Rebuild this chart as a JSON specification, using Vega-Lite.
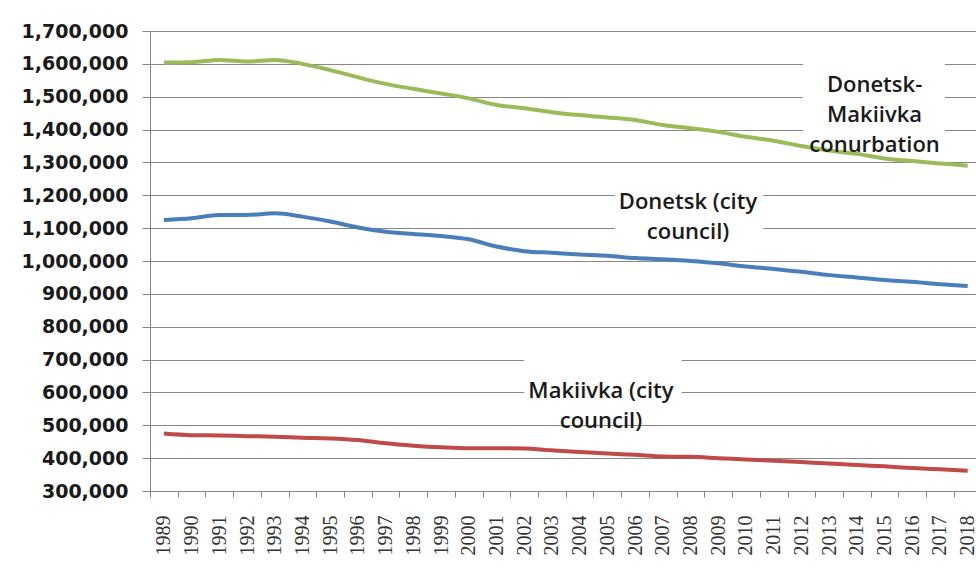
{
  "$schema": "https://vega.github.io/schema/vega-lite/v6.json",
  "width": 826,
  "height": 460,
  "autosize": {"type": "none"},
  "padding": {"left": 150, "top": 31, "right": 0, "bottom": 88},
  "background": "white",
  "config": {
    "view": {"stroke": null},
    "axisX": {
      "title": null,
      "grid": false,
      "tickOffset": -13.86,
      "labelOffset": 13.86,
      "labelAngle": -90,
      "labelFont": "Liberation Serif",
      "labelFontSize": 20,
      "labelColor": "#333333",
      "labelPadding": 18,
      "labelOverlap": false,
      "labelBound": false,
      "labelFlush": false,
      "tickSize": 6,
      "tickColor": "#878787",
      "domainColor": "#878787"
    },
    "axisY": {
      "title": null,
      "grid": true,
      "gridColor": "#878787",
      "gridOpacity": 1,
      "labelOverlap": false,
      "labelFont": "DejaVu Sans",
      "labelFontSize": 19,
      "labelFontWeight": "bold",
      "labelColor": "#1a1a1a",
      "labelPadding": 14,
      "tickSize": 8,
      "tickColor": "#878787",
      "domainColor": "#878787"
    }
  },
  "datasets": {
    "pop": [
      {"year": 1989, "series": "Conurbation", "value": 1604000},
      {"year": 1990, "series": "Conurbation", "value": 1605000},
      {"year": 1991, "series": "Conurbation", "value": 1612000},
      {"year": 1992, "series": "Conurbation", "value": 1607000},
      {"year": 1993, "series": "Conurbation", "value": 1612000},
      {"year": 1994, "series": "Conurbation", "value": 1600000},
      {"year": 1995, "series": "Conurbation", "value": 1581000},
      {"year": 1996, "series": "Conurbation", "value": 1559000},
      {"year": 1997, "series": "Conurbation", "value": 1539000},
      {"year": 1998, "series": "Conurbation", "value": 1524000},
      {"year": 1999, "series": "Conurbation", "value": 1510000},
      {"year": 2000, "series": "Conurbation", "value": 1495000},
      {"year": 2001, "series": "Conurbation", "value": 1475000},
      {"year": 2002, "series": "Conurbation", "value": 1465000},
      {"year": 2003, "series": "Conurbation", "value": 1453000},
      {"year": 2004, "series": "Conurbation", "value": 1444000},
      {"year": 2005, "series": "Conurbation", "value": 1437000},
      {"year": 2006, "series": "Conurbation", "value": 1429000},
      {"year": 2007, "series": "Conurbation", "value": 1414000},
      {"year": 2008, "series": "Conurbation", "value": 1404000},
      {"year": 2009, "series": "Conurbation", "value": 1393000},
      {"year": 2010, "series": "Conurbation", "value": 1378000},
      {"year": 2011, "series": "Conurbation", "value": 1366000},
      {"year": 2012, "series": "Conurbation", "value": 1350000},
      {"year": 2013, "series": "Conurbation", "value": 1336000},
      {"year": 2014, "series": "Conurbation", "value": 1326000},
      {"year": 2015, "series": "Conurbation", "value": 1312000},
      {"year": 2016, "series": "Conurbation", "value": 1304000},
      {"year": 2017, "series": "Conurbation", "value": 1297000},
      {"year": 2018, "series": "Conurbation", "value": 1290000},
      {"year": 1989, "series": "Donetsk", "value": 1125000},
      {"year": 1990, "series": "Donetsk", "value": 1130000},
      {"year": 1991, "series": "Donetsk", "value": 1140000},
      {"year": 1992, "series": "Donetsk", "value": 1140000},
      {"year": 1993, "series": "Donetsk", "value": 1145000},
      {"year": 1994, "series": "Donetsk", "value": 1135000},
      {"year": 1995, "series": "Donetsk", "value": 1120000},
      {"year": 1996, "series": "Donetsk", "value": 1102000},
      {"year": 1997, "series": "Donetsk", "value": 1089000},
      {"year": 1998, "series": "Donetsk", "value": 1082000},
      {"year": 1999, "series": "Donetsk", "value": 1076000},
      {"year": 2000, "series": "Donetsk", "value": 1066000},
      {"year": 2001, "series": "Donetsk", "value": 1044000},
      {"year": 2002, "series": "Donetsk", "value": 1030000},
      {"year": 2003, "series": "Donetsk", "value": 1025000},
      {"year": 2004, "series": "Donetsk", "value": 1020000},
      {"year": 2005, "series": "Donetsk", "value": 1016000},
      {"year": 2006, "series": "Donetsk", "value": 1009000},
      {"year": 2007, "series": "Donetsk", "value": 1005000},
      {"year": 2008, "series": "Donetsk", "value": 1000000},
      {"year": 2009, "series": "Donetsk", "value": 993000},
      {"year": 2010, "series": "Donetsk", "value": 983000},
      {"year": 2011, "series": "Donetsk", "value": 976000},
      {"year": 2012, "series": "Donetsk", "value": 967000},
      {"year": 2013, "series": "Donetsk", "value": 957000},
      {"year": 2014, "series": "Donetsk", "value": 950000},
      {"year": 2015, "series": "Donetsk", "value": 942000},
      {"year": 2016, "series": "Donetsk", "value": 937000},
      {"year": 2017, "series": "Donetsk", "value": 929000},
      {"year": 2018, "series": "Donetsk", "value": 924000},
      {"year": 1989, "series": "Makiivka", "value": 475000},
      {"year": 1990, "series": "Makiivka", "value": 470000},
      {"year": 1991, "series": "Makiivka", "value": 469000},
      {"year": 1992, "series": "Makiivka", "value": 467000},
      {"year": 1993, "series": "Makiivka", "value": 465000},
      {"year": 1994, "series": "Makiivka", "value": 462000},
      {"year": 1995, "series": "Makiivka", "value": 460000},
      {"year": 1996, "series": "Makiivka", "value": 455000},
      {"year": 1997, "series": "Makiivka", "value": 445000},
      {"year": 1998, "series": "Makiivka", "value": 438000},
      {"year": 1999, "series": "Makiivka", "value": 433000},
      {"year": 2000, "series": "Makiivka", "value": 430000},
      {"year": 2001, "series": "Makiivka", "value": 430000},
      {"year": 2002, "series": "Makiivka", "value": 429000},
      {"year": 2003, "series": "Makiivka", "value": 424000},
      {"year": 2004, "series": "Makiivka", "value": 419000},
      {"year": 2005, "series": "Makiivka", "value": 414000},
      {"year": 2006, "series": "Makiivka", "value": 410000},
      {"year": 2007, "series": "Makiivka", "value": 405000},
      {"year": 2008, "series": "Makiivka", "value": 404000},
      {"year": 2009, "series": "Makiivka", "value": 400000},
      {"year": 2010, "series": "Makiivka", "value": 396000},
      {"year": 2011, "series": "Makiivka", "value": 392000},
      {"year": 2012, "series": "Makiivka", "value": 388000},
      {"year": 2013, "series": "Makiivka", "value": 384000},
      {"year": 2014, "series": "Makiivka", "value": 379000},
      {"year": 2015, "series": "Makiivka", "value": 375000},
      {"year": 2016, "series": "Makiivka", "value": 370000},
      {"year": 2017, "series": "Makiivka", "value": 366000},
      {"year": 2018, "series": "Makiivka", "value": 362000}
    ],
    "boxes": [
      {"x1": 2012.06, "x2": 2017.18, "y1": 1672000, "y2": 1377000},
      {"x1": 2005.27, "x2": 2010.61, "y1": 1271000, "y2": 1070000},
      {"x1": 2002.0, "x2": 2007.68, "y1": 760000, "y2": 516000}
    ],
    "labels": [
      {"x": 2014.64, "y": 1535000, "label": "Donetsk-\nMakiivka\nconurbation"},
      {"x": 2007.91, "y": 1180000, "label": "Donetsk (city\ncouncil)"},
      {"x": 2004.77, "y": 605000, "label": "Makiivka (city\ncouncil)"}
    ]
  },
  "layer": [
    {
      "data": {"name": "pop"},
      "mark": {"type": "line", "strokeWidth": 4, "interpolate": "monotone", "clip": true},
      "encoding": {
        "x": {
          "field": "year",
          "type": "quantitative",
          "scale": {"domain": [1988.5, 2018.3], "nice": false, "zero": false},
          "axis": {
            "values": [1989, 1990, 1991, 1992, 1993, 1994, 1995, 1996, 1997, 1998, 1999, 2000, 2001, 2002, 2003, 2004, 2005, 2006, 2007, 2008, 2009, 2010, 2011, 2012, 2013, 2014, 2015, 2016, 2017, 2018],
            "format": "d"
          }
        },
        "y": {
          "field": "value",
          "type": "quantitative",
          "scale": {"domain": [300000, 1700000], "nice": false, "zero": false},
          "axis": {
            "values": [300000, 400000, 500000, 600000, 700000, 800000, 900000, 1000000, 1100000, 1200000, 1300000, 1400000, 1500000, 1600000, 1700000],
            "format": ",d"
          }
        },
        "color": {
          "field": "series",
          "type": "nominal",
          "scale": {"domain": ["Conurbation", "Donetsk", "Makiivka"], "range": ["#9BBB59", "#4A7EBB", "#BE4B48"]},
          "legend": null
        }
      }
    },
    {
      "data": {"name": "boxes"},
      "mark": {"type": "rect", "fill": "white", "clip": true},
      "encoding": {
        "x": {
          "field": "x1",
          "type": "quantitative",
          "axis": {
            "values": [1989, 1990, 1991, 1992, 1993, 1994, 1995, 1996, 1997, 1998, 1999, 2000, 2001, 2002, 2003, 2004, 2005, 2006, 2007, 2008, 2009, 2010, 2011, 2012, 2013, 2014, 2015, 2016, 2017, 2018],
            "format": "d"
          }
        },
        "x2": {"field": "x2"},
        "y": {
          "field": "y1",
          "type": "quantitative",
          "axis": {
            "values": [300000, 400000, 500000, 600000, 700000, 800000, 900000, 1000000, 1100000, 1200000, 1300000, 1400000, 1500000, 1600000, 1700000],
            "format": ",d"
          }
        },
        "y2": {"field": "y2"}
      }
    },
    {
      "data": {"name": "labels"},
      "mark": {"type": "text", "font": "Open Sans", "fontSize": 22, "fontWeight": 600, "lineHeight": 30, "lineBreak": "\n", "align": "center", "baseline": "middle", "color": "#1a1a1a"},
      "encoding": {
        "x": {
          "field": "x",
          "type": "quantitative",
          "axis": {
            "values": [1989, 1990, 1991, 1992, 1993, 1994, 1995, 1996, 1997, 1998, 1999, 2000, 2001, 2002, 2003, 2004, 2005, 2006, 2007, 2008, 2009, 2010, 2011, 2012, 2013, 2014, 2015, 2016, 2017, 2018],
            "format": "d"
          }
        },
        "y": {
          "field": "y",
          "type": "quantitative",
          "axis": {
            "values": [300000, 400000, 500000, 600000, 700000, 800000, 900000, 1000000, 1100000, 1200000, 1300000, 1400000, 1500000, 1600000, 1700000],
            "format": ",d"
          }
        },
        "text": {"field": "label"}
      }
    }
  ]
}
